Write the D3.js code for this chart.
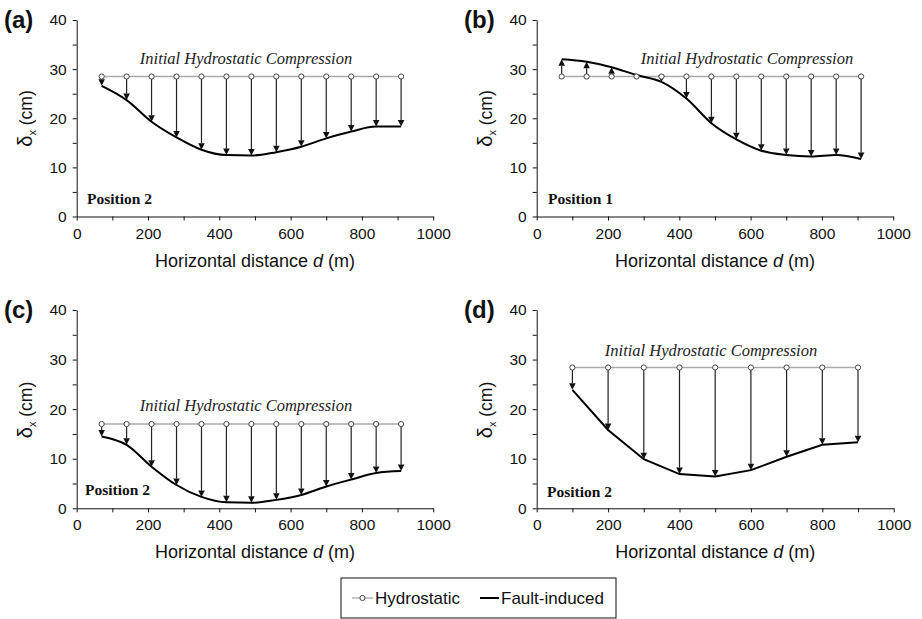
<!DOCTYPE html>
<html>
<head>
<meta charset="utf-8">
<script src="https://cdn.jsdelivr.net/npm/d3@7"></script>
<style>
  html, body { margin: 0; padding: 0; background: #fff; }
  svg { display: block; }
</style>
</head>
<body>
<svg id="chart" width="922" height="619"></svg>
<script>
// ---------------- DATA ----------------
const distanceABC = [70, 140, 210, 280, 350, 420, 490, 560, 630, 700, 770, 840, 910];
const distanceD = [100, 200, 300, 400, 500, 600, 700, 800, 900];

const hydroA = [28.5, 28.5, 28.5, 28.5, 28.5, 28.5, 28.5, 28.5, 28.5, 28.5, 28.5, 28.5, 28.5];
const faultA = [26.6, 23.7, 19.3, 16.1, 13.6, 12.5, 12.4, 13.1, 14.2, 15.9, 17.3, 18.3, 18.3];

const hydroB = [28.5, 28.5, 28.5, 28.5, 28.5, 28.5, 28.5, 28.5, 28.5, 28.5, 28.5, 28.5, 28.5];
const faultB = [32.0, 31.5, 30.4, 28.8, 27.4, 24.0, 19.0, 15.7, 13.4, 12.5, 12.2, 12.5, 11.7];

const hydroC = [17.0, 17.0, 17.0, 17.0, 17.0, 17.0, 17.0, 17.0, 17.0, 17.0, 17.0, 17.0, 17.0];
const faultC = [14.5, 12.8, 8.4, 4.7, 2.3, 1.2, 1.1, 1.7, 2.7, 4.4, 5.8, 7.1, 7.5];

const hydroD = [28.4, 28.4, 28.4, 28.4, 28.4, 28.4, 28.4, 28.4, 28.4];
const faultD = [23.9, 15.8, 9.9, 6.9, 6.4, 7.7, 10.4, 12.8, 13.3];

const xTickValues = [0, 100, 200, 300, 400, 500, 600, 700, 800, 900, 1000];
const yTickValues = [0, 5, 10, 15, 20, 25, 30, 35, 40];
const panelLabels = ["(a)", "(b)", "(c)", "(d)"];
const positionLabels = ["Position 2", "Position 1", "Position 2", "Position 2"];
const annotationText = "Initial Hydrostatic Compression";
const xTitle = ["Horizontal distance ", "d", " (m)"];
const legendLabels = ["Hydrostatic", "Fault-induced"];

// ---------------- LAYOUT ----------------
const SANS = "'Liberation Sans', Arial, Helvetica, sans-serif";
const SERIF = "'Liberation Serif', 'Times New Roman', serif";

const panels = [
  { ox: 76.7, oy: 20, w: 356.5, h: 196.5, xs: distanceABC, hydro: hydroA, fault: faultA, smooth: true,
    lx: 4, ly: 28, annX: 246, annY: 63.5, posX: 87, posY: 204, ytY: 118.5 },
  { ox: 536.7, oy: 20, w: 356.5, h: 196.5, xs: distanceABC, hydro: hydroB, fault: faultB, smooth: true,
    lx: 464, ly: 28, annX: 747, annY: 63.5, posX: 548, posY: 204, ytY: 118.5 },
  { ox: 76.7, oy: 310, w: 356.5, h: 198.3, xs: distanceABC, hydro: hydroC, fault: faultC, smooth: true,
    lx: 4, ly: 318, annX: 246, annY: 410.5, posX: 85, posY: 495, ytY: 410 },
  { ox: 536.7, oy: 310, w: 357, h: 198.3, xs: distanceD, hydro: hydroD, fault: faultD, smooth: false,
    lx: 464, ly: 318, annX: 711, annY: 355.5, posX: 547, posY: 497, ytY: 410 }
];

const svg = d3.select("#chart");

panels.forEach((p, i) => {
  const x = d3.scaleLinear().domain([0, 1000]).range([p.ox, p.ox + p.w]);
  const y = d3.scaleLinear().domain([0, 40]).range([p.oy + p.h, p.oy]);
  const g = svg.append("g");

  // axes
  const xAxis = d3.axisBottom(x).tickValues(xTickValues).tickSize(4).tickSizeOuter(0).tickPadding(7)
    .tickFormat(d => d % 200 === 0 ? d : "");
  const yAxis = d3.axisLeft(y).tickValues(yTickValues).tickSize(4).tickSizeOuter(0).tickPadding(6)
    .tickFormat(d => d % 10 === 0 ? d : "");
  const gx = g.append("g").attr("transform", `translate(0,${y(0)})`).call(xAxis);
  const gy = g.append("g").attr("transform", `translate(${x(0)},0)`).call(yAxis);
  [gx, gy].forEach(a => {
    a.selectAll("text").attr("font-family", SANS).attr("font-size", 15.5).attr("fill", "#111");
    a.selectAll("line").attr("stroke", "#111");
    a.select(".domain").attr("stroke", "#111");
  });

  // axis titles
  const xt = g.append("text").attr("x", p.ox + p.w / 2).attr("y", y(0) + 50)
    .attr("text-anchor", "middle").attr("font-family", SANS).attr("font-size", 18).attr("fill", "#111");
  xt.append("tspan").text(xTitle[0]);
  xt.append("tspan").attr("font-style", "italic").text(xTitle[1]);
  xt.append("tspan").text(xTitle[2]);

  const yt = g.append("text").attr("transform", `translate(${p.ox - 45},${p.ytY}) rotate(-90)`)
    .attr("text-anchor", "middle").attr("font-family", SANS).attr("font-size", 17.5).attr("fill", "#111");
  yt.append("tspan").attr("font-size", 20).text("δ");
  yt.append("tspan").attr("font-size", 11).attr("dy", 4).text("x");
  yt.append("tspan").attr("dy", -4).text(" (cm)");

  // panel label
  g.append("text").attr("x", p.lx).attr("y", p.ly).attr("font-family", SANS).attr("font-weight", "bold")
    .attr("font-size", 24).attr("fill", "#111").text(panelLabels[i]);

  // annotation
  g.append("text").attr("x", p.annX).attr("y", p.annY).attr("text-anchor", "middle")
    .attr("font-family", SERIF).attr("font-style", "italic").attr("font-size", 16.5).attr("fill", "#222")
    .text(annotationText);
  g.append("text").attr("x", p.posX).attr("y", p.posY).attr("font-family", SERIF).attr("font-weight", "bold")
    .attr("font-size", 15.5).attr("fill", "#111").text(positionLabels[i]);

  // hydrostatic line
  const hydroLine = d3.line().x((d, k) => x(p.xs[k])).y(d => y(d));
  g.append("path").datum(p.hydro).attr("d", hydroLine).attr("fill", "none")
    .attr("stroke", "#aaa").attr("stroke-width", 1.3);

  // fault-induced line
  const faultLine = d3.line().x((d, k) => x(p.xs[k])).y(d => y(d))
    .curve(p.smooth ? d3.curveMonotoneX : d3.curveLinear);
  g.append("path").datum(p.fault).attr("d", faultLine).attr("fill", "none")
    .attr("stroke", "#000").attr("stroke-width", 2);

  // arrows
  const head = 6.5, hw = 3.3;
  p.xs.forEach((xv, k) => {
    const x0 = x(xv), y0 = y(p.hydro[k]), y1 = y(p.fault[k]);
    const dist = Math.abs(y1 - y0);
    if (dist < 4) return;
    const dir = y1 > y0 ? 1 : -1;
    const base = y1 - dir * head;
    g.append("line").attr("x1", x0).attr("x2", x0).attr("y1", y0 + dir * 2.5).attr("y2", base)
      .attr("stroke", "#222").attr("stroke-width", 1.2);
    g.append("path").attr("d", `M${x0 - hw},${base}L${x0 + hw},${base}L${x0},${y1}Z`).attr("fill", "#111");
  });

  // hydrostatic circles
  g.selectAll("circle.h").data(p.hydro).enter().append("circle")
    .attr("cx", (d, k) => x(p.xs[k])).attr("cy", d => y(d)).attr("r", 2.6)
    .attr("fill", "#fff").attr("stroke", "#444").attr("stroke-width", 1);
});

// ---------------- LEGEND ----------------
const lg = svg.append("g");
lg.append("rect").attr("x", 341).attr("y", 578).attr("width", 275).attr("height", 40)
  .attr("fill", "#fff").attr("stroke", "#111").attr("stroke-width", 1);
lg.append("line").attr("x1", 352).attr("x2", 373).attr("y1", 598).attr("y2", 598)
  .attr("stroke", "#aaa").attr("stroke-width", 1.3);
lg.append("circle").attr("cx", 362.5).attr("cy", 598).attr("r", 2.6)
  .attr("fill", "#fff").attr("stroke", "#444");
lg.append("text").attr("x", 375).attr("y", 604).attr("font-family", SANS).attr("font-size", 17)
  .attr("fill", "#111").text(legendLabels[0]);
lg.append("line").attr("x1", 480).attr("x2", 499).attr("y1", 598).attr("y2", 598)
  .attr("stroke", "#000").attr("stroke-width", 2);
lg.append("text").attr("x", 501).attr("y", 604).attr("font-family", SANS).attr("font-size", 17)
  .attr("fill", "#111").text(legendLabels[1]);
</script>
</body>
</html>
